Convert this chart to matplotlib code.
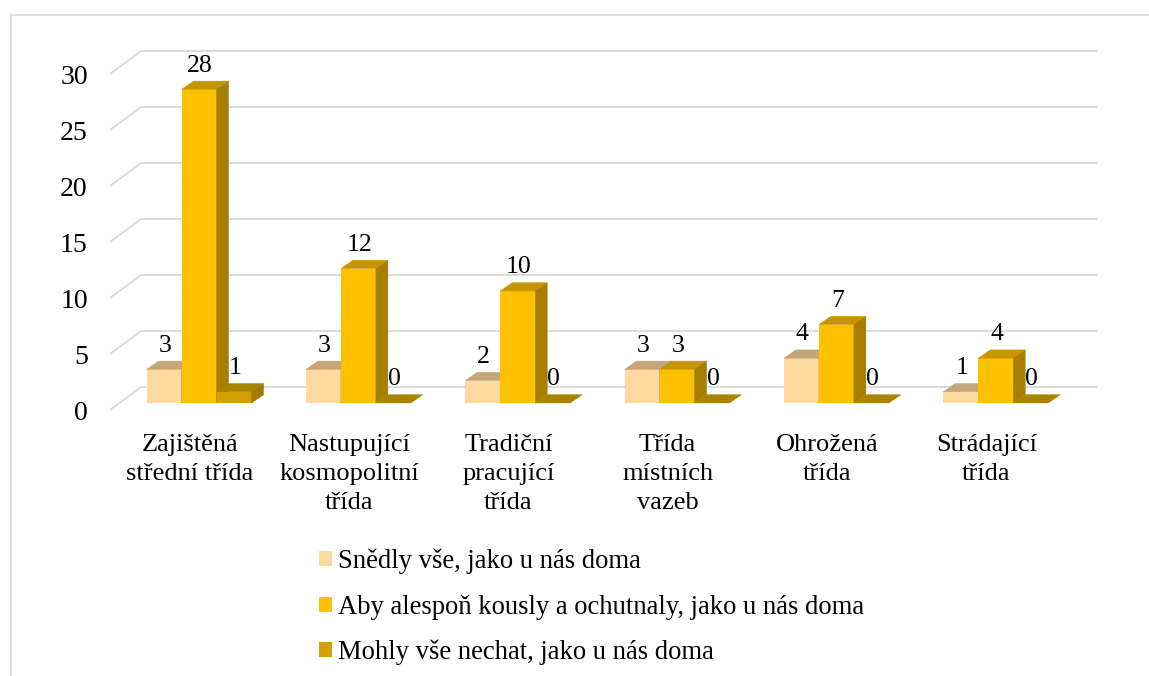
import matplotlib.pyplot as plt
from matplotlib.patches import Polygon, Patch, Rectangle

plt.rcParams['font.family'] = ['Liberation Serif', 'DejaVu Serif']

categories = ['Zajištěná\nstřední třída', 'Nastupující\nkosmopolitní\ntřída',
              'Tradiční\npracující\ntřída', 'Třída\nmístních\nvazeb',
              'Ohrožená\ntřída', 'Strádající\ntřída']
series_names = ['Snědly vše, jako u nás doma',
                'Aby alespoň kously a ochutnaly, jako u nás doma',
                'Mohly vše nechat, jako u nás doma']
ate_all = [3, 3, 2, 3, 4, 1]
taste = [28, 12, 10, 3, 7, 4]
leave = [1, 0, 0, 0, 0, 0]
yticks = [0, 5, 10, 15, 20, 25, 30]

# front, top, side colours per series
colors = [('#FFD9A0', '#C4A67A', '#B89A70'),
          ('#FFC000', '#C69600', '#A67E00'),
          ('#D4A000', '#AA8400', '#A07A00')]
grid_c = '#D9D9D9'

W, H, DPI = 1149, 676, 100
fig = plt.figure(figsize=(W / DPI, H / DPI), dpi=DPI)

# front plane of the plot in pixels
px0, px1, py0, py1 = 110, 1066, 410, 74
ax = fig.add_axes([px0 / W, 1 - py0 / H, (px1 - px0) / W, (py0 - py1) / H])
ax.set_xlim(0, len(categories))
ax.set_ylim(0, 30)
ux = (px1 - px0) / len(categories)   # px per category
uy = (py0 - py1) / 30.0               # px per unit

wall = (31 / ux, 23 / uy)     # depth of the whole floor / wall
shift = (9.4 / ux, 7 / uy)    # bars sit in the middle of the depth
depth = (12 / ux, 8.3 / uy)   # depth of each bar
bw = 35 / ux

# gridlines: diagonal on the side wall + horizontal on the back wall
for v in yticks:
    ax.plot([0, wall[0], len(categories) + wall[0]], [v, v + wall[1], v + wall[1]],
            color=grid_c, lw=1.3, clip_on=False, zorder=1, solid_capstyle='butt')

n = len(categories)
for k, vals in enumerate([ate_all, taste, leave]):
    fc, tc, sc = colors[k]
    xs = [i + 0.5 - 1.5 * bw + k * bw + shift[0] for i in range(n)]
    ax.bar(xs, vals, width=bw, bottom=shift[1], align='edge', color=fc,
           linewidth=0, clip_on=False, zorder=3 + k)
    for xa, v in zip(xs, vals):
        ya = shift[1]
        dx, dy = depth
        ax.add_patch(Polygon([(xa, ya + v), (xa + bw, ya + v), (xa + bw + dx, ya + v + dy),
                              (xa + dx, ya + v + dy)], closed=True, fc=tc, ec=tc, lw=0.3,
                             clip_on=False, zorder=3 + k))
        if v > 0:
            ax.add_patch(Polygon([(xa + bw, ya), (xa + bw + dx, ya + dy),
                                  (xa + bw + dx, ya + v + dy), (xa + bw, ya + v)],
                                 closed=True, fc=sc, ec=sc, lw=0.3, clip_on=False,
                                 zorder=3 + k))
        ax.text(xa + bw / 2 + 1 / ux, ya + v + dy + 9.5 / uy, str(v), ha='center',
                va='baseline', fontsize=18.5, zorder=10)

for s in ax.spines.values():
    s.set_visible(False)
ax.set_yticks(yticks)
ax.set_yticklabels([str(t) for t in yticks], fontsize=20)
ax.set_xticks([i + 0.5 for i in range(n)])
ax.set_xticklabels(categories, fontsize=19, linespacing=1.43)
ax.tick_params(axis='y', length=0, pad=16)
ax.tick_params(axis='x', length=0, pad=17)
ax.patch.set_visible(False)

handles = [Patch(fc=c[0], ec='none') for c in colors]
fig.legend(handles, series_names, loc='center left', bbox_to_anchor=(319 / W, 1 - 607 / H),
           frameon=False, fontsize=19.2, handlelength=0.49, handleheight=0.49,
           handletextpad=0.23, labelspacing=0.76, borderpad=0, borderaxespad=0)

# chart area border (runs off the right and bottom edges)
fig.add_artist(Rectangle((11 / W, -0.2), 1.2, 1.2 - 15 / H, transform=fig.transFigure,
                         fill=False, ec=grid_c, lw=1.2))

fig.savefig('out.png', dpi=DPI)
